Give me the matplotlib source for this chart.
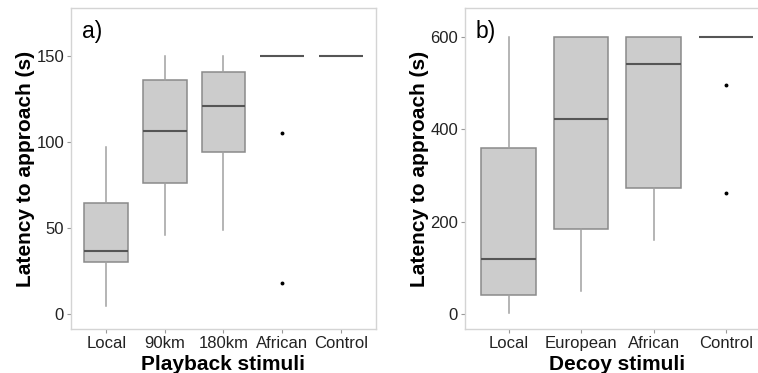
import numpy as np
import matplotlib
matplotlib.use('Agg')
import matplotlib.pyplot as plt

plt.rcParams['font.family'] = ['Liberation Sans', 'DejaVu Sans']

# panel a) playback
play_labels = ['Local', '90km', '180km', 'African', 'Control']
play_whislo = [5, 46, 49, 150, 150]
play_q1 = [30.5, 76, 94, 150, 150]
play_med = [37, 106.5, 121, 150, 150]
play_q3 = [64.5, 136, 140.5, 150, 150]
play_whishi = [97, 150, 150, 150, 150]
play_fliers = [[], [], [], [105, 18], []]

# panel b) decoy
decoy_labels = ['Local', 'European', 'African', 'Control']
decoy_whislo = [2, 50, 160, 600]
decoy_q1 = [41, 185, 274, 600]
decoy_med = [119, 421, 541, 600]
decoy_q3 = [359, 600, 600, 600]
decoy_whishi = [600, 600, 600, 600]
decoy_fliers = [[], [], [], [496, 263]]

BOX_FILL = '#cccccc'
BOX_EDGE = '#8a8a8a'
MED_COL = '#555555'


def make_stats(lo, q1, med, q3, hi, fl):
    return [dict(whislo=a, q1=b, med=c, q3=d, whishi=e, fliers=f)
            for a, b, c, d, e, f in zip(lo, q1, med, q3, hi, fl)]


def draw_panel(ax, stats, labels, ylim, yticks, xlabel, tag):
    n = len(labels)
    ax.bxp(stats, positions=np.arange(1, n + 1), widths=0.75, patch_artist=True,
           showcaps=False,
           boxprops=dict(facecolor=BOX_FILL, edgecolor=BOX_EDGE, linewidth=1.1),
           medianprops=dict(color=MED_COL, linewidth=1.5),
           whiskerprops=dict(color='#a0a0a0', linewidth=1.1),
           flierprops=dict(marker='o', markersize=1.8, markerfacecolor='black',
                           markeredgecolor='black'))
    ax.set_xlim(0.4, n + 0.6)
    ax.set_ylim(*ylim)
    ax.set_yticks(yticks)
    ax.set_xticks(np.arange(1, n + 1))
    ax.set_xticklabels(labels)
    for s in ax.spines.values():
        s.set_color('#d4d4d4')
        s.set_linewidth(1.0)
    ax.tick_params(colors='#999999', labelcolor='#222222', labelsize=12,
                   length=3, width=0.8, pad=2)
    ax.set_xlabel(xlabel, fontsize=15, fontweight='bold', labelpad=3)
    ax.set_ylabel('Latency to approach (s)', fontsize=15, fontweight='bold', labelpad=1)
    ax.text(0.035, 0.962, tag, transform=ax.transAxes, fontsize=16.5,
            va='top', ha='left', color='black')


fig = plt.figure(figsize=(7.58, 3.73), dpi=100)
ax1 = fig.add_axes([0.0937, 0.118, 0.4023, 0.8606])
ax2 = fig.add_axes([0.6135, 0.118, 0.4018, 0.8606])

draw_panel(ax1, make_stats(play_whislo, play_q1, play_med, play_q3, play_whishi, play_fliers),
           play_labels, (-8.5, 177.7), [0, 50, 100, 150], 'Playback stimuli', 'a)')
draw_panel(ax2, make_stats(decoy_whislo, decoy_q1, decoy_med, decoy_q3, decoy_whishi, decoy_fliers),
           decoy_labels, (-31.8, 662), [0, 200, 400, 600], 'Decoy stimuli', 'b)')

fig.savefig('out.png', dpi=100)
